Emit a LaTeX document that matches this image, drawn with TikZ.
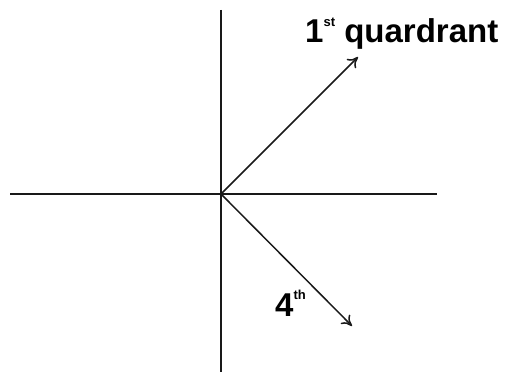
\documentclass[tikz,border=0pt]{standalone}
\usepackage{fontspec}
\setmainfont{Liberation Sans}
\usetikzlibrary{arrows.meta}
\begin{document}
\begin{tikzpicture}[x=1pt,y=-1pt,
  axis/.style={line width=1.5pt,black!90},
  vec/.style={line width=1.5pt,black!90,-{To[length=10pt,width=13pt]}},
  lbl/.style={font=\bfseries\fontsize{33}{35}\selectfont,inner sep=0pt,anchor=base west}]
\useasboundingbox (0,0) rectangle (511,374);
\coordinate (o) at (221,194);
\coordinate (top) at (221,10);
\coordinate (bot) at (221,372);
\coordinate (left) at (10,194);
\coordinate (right) at (437,194);
\coordinate (q1) at (358,57);
\coordinate (q4) at (352,326);
\draw[axis] (top) -- (bot);
\draw[axis] (left) -- (right);
\draw[vec] (o) -- (q1);
\draw[vec] (o) -- (q4);
\node[lbl] (t1) at (305,43) {1\raisebox{0.5em}{\fontsize{13}{13}\selectfont st} quardrant};
\node[lbl] (t4) at (275,316) {4\raisebox{0.5em}{\fontsize{13}{13}\selectfont th}};
\end{tikzpicture}
\end{document}
